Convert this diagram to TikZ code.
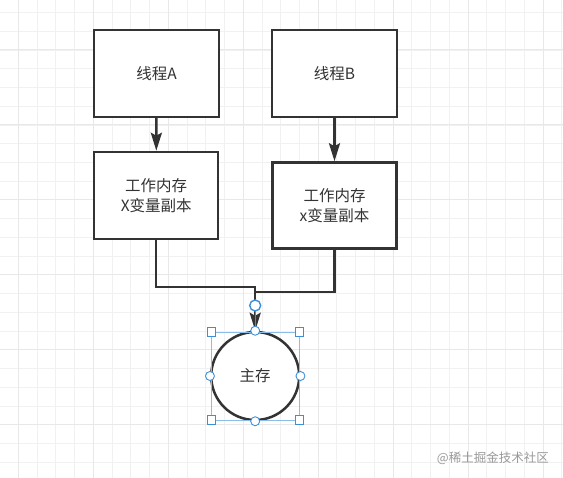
\documentclass[tikz,border=0pt]{standalone}
\usepackage{fontspec}
\setmainfont{Noto Sans CJK SC}
\usetikzlibrary{arrows.meta,calc}
\definecolor{ink}{HTML}{333333}
\definecolor{gridminor}{HTML}{F1F1F1}
\definecolor{gridmajor}{HTML}{E8E8E8}
\definecolor{selblue}{HTML}{3D8FD9}
\definecolor{sellight}{HTML}{8CBCE8}
\tikzset{
  boxnode/.style={draw=ink, line width=2.5pt, fill=white, text=ink, align=center,
    font=\fontsize{15.5}{19.5}\selectfont, inner sep=0pt},
  conn/.style={draw=ink, line width=2.5pt},
  arr/.style={conn, -{Stealth[length=18pt,width=11pt,inset=3pt]}},
  circnode/.style={draw=ink, line width=2.5pt, fill=white, circle, minimum size=88pt,
    inner sep=0pt, text=ink, font=\fontsize{15.5}{19.5}\selectfont},
  handlesq/.style={draw=selblue, fill=white, line width=0.9pt, minimum size=8.5pt, inner sep=0pt, rectangle},
  handlect/.style={draw=selblue, fill=white, line width=0.9pt, minimum size=9pt, inner sep=0pt, circle},
  watermark/.style={text=black!40, font=\fontsize{12.5}{14}\selectfont, inner sep=0pt}
}
\begin{document}
\begin{tikzpicture}[x=1pt,y=-1pt]
\useasboundingbox (0,0) rectangle (563,478);
\fill[white] (0,0) rectangle (563,478);
% grid
\foreach \k in {-1,...,30}{
  \pgfmathsetmacro{\gx}{18.4+18.74*\k}
  \pgfmathsetmacro{\gy}{12.6+18.74*\k}
  \draw[gridminor, line width=1pt] (\gx,0) -- (\gx,478);
  \draw[gridminor, line width=1pt] (0,\gy) -- (563,\gy);
}
\foreach \k in {-1,...,8}{
  \pgfmathsetmacro{\gx}{18.4+74.96*\k}
  \pgfmathsetmacro{\gy}{49.8+74.96*\k}
  \draw[gridmajor, line width=1pt] (\gx,0) -- (\gx,478);
  \draw[gridmajor, line width=1pt] (0,\gy) -- (563,\gy);
}
% boxes
\node[boxnode, minimum width=125pt, minimum height=87pt] (A) at (156.5,73.5) {线程A};
\node[boxnode, minimum width=125pt, minimum height=87pt] (B) at (334.5,73.5) {线程B};
\node[boxnode, minimum width=124pt, minimum height=87pt] (C) at (156.2,195.5) {工作内存\\X变量副本};
\node[boxnode, minimum width=124pt, minimum height=86pt] (D) at (334.5,205.5) {工作内存\\x变量副本};
\node[circnode] (M) at (255.2,376) {主存};
% connectors
\draw[arr] (A) -- (C);
\draw[arr] (B) -- (D);
\coordinate (jl) at ($(C.south)+(0,47)$);
\coordinate (jr) at (M.north |- {(0,291.8)});
\draw[conn] (D.south) |- (jr);
\draw[arr] (C.south) -- (jl) -| (M.north);
% selection overlay
\draw[selblue, line width=1.4pt] (M.north) -- (255.2,310);
\node[handlect, minimum size=11pt, line width=1.4pt] (H) at (255.2,305.5) {};
\draw[sellight, line width=0.8pt] (211.2,332) rectangle (299.2,420);
\node[handlesq] (s1) at (211.2,332) {};
\node[handlesq] (s2) at (299.2,332) {};
\node[handlesq] (s3) at (211.2,420) {};
\node[handlesq] (s4) at (299.2,420) {};
\node[handlect] (c1) at (M.north) {};
\node[handlect] (c2) at (M.west) {};
\node[handlect] (c3) at (M.east) {};
\node[handlect] (c4) at (M.south) {};
% watermark
\node[watermark, anchor=east] (W) at (549,458.5) {@稀土掘金技术社区};
\end{tikzpicture}
\end{document}
